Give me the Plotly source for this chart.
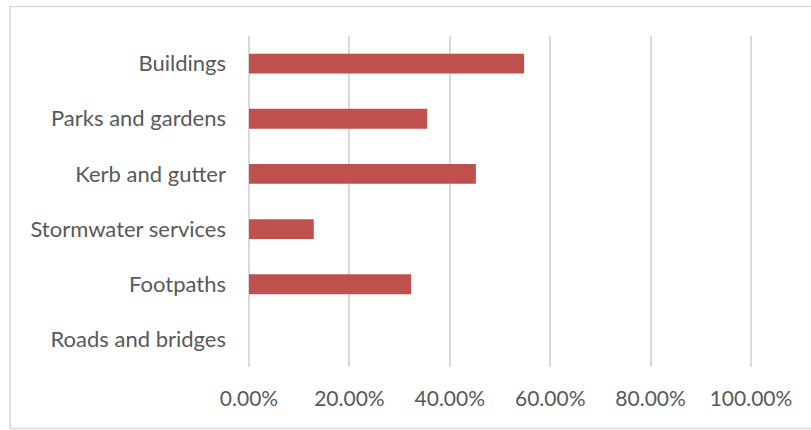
import plotly.graph_objects as go

categories = ["Roads and bridges", "Footpaths", "Stormwater services",
              "Kerb and gutter", "Parks and gardens", "Buildings"]
values = [0.0, 0.323, 0.129, 0.452, 0.355, 0.548]
tick_vals = [0, 0.2, 0.4, 0.6, 0.8, 1.0]
tick_text = ["0.00%", "20.00%", "40.00%", "60.00%", "80.00%", "100.00%"]

W, H = 811, 430
L, R, T, B = 247, 58, 36, 63
pw, ph = W - L - R, H - T - B

fig = go.Figure(go.Bar(
    x=values, y=categories, orientation="h",
    marker=dict(color="#C0504D", line=dict(width=0)),
))

xfont = dict(family="Lato, Open Sans, sans-serif", size=21, color="#595959")
yfont = dict(family="Lato, Open Sans, sans-serif", size=22, color="#595959")

fig.update_layout(
    width=W, height=H,
    margin=dict(l=L, r=R, t=T, b=B),
    paper_bgcolor="white", plot_bgcolor="white",
    bargap=0.64,
    showlegend=False,
    font=xfont,
    xaxis=dict(range=[-0.004, 1.004], tickvals=tick_vals, ticktext=tick_text,
               showgrid=True, gridcolor="#d9d9d9", gridwidth=1.5,
               zeroline=False, showline=False, ticks="",
               ticklabelstandoff=17, tickfont=xfont, fixedrange=True),
    yaxis=dict(showgrid=False, zeroline=False, showline=False, ticks="",
               ticklabelstandoff=20, tickfont=yfont, fixedrange=True),
    shapes=[dict(type="rect", xref="paper", yref="paper",
                 x0=(10 - L) / pw, x1=(W + 5 - L) / pw,
                 y0=-(428.5 - (T + ph)) / ph, y1=1 + (T - 6.5) / ph,
                 line=dict(color="#d9d9d9", width=1.5), fillcolor="rgba(0,0,0,0)",
                 layer="below")],
)

fig.write_html("out.html")
